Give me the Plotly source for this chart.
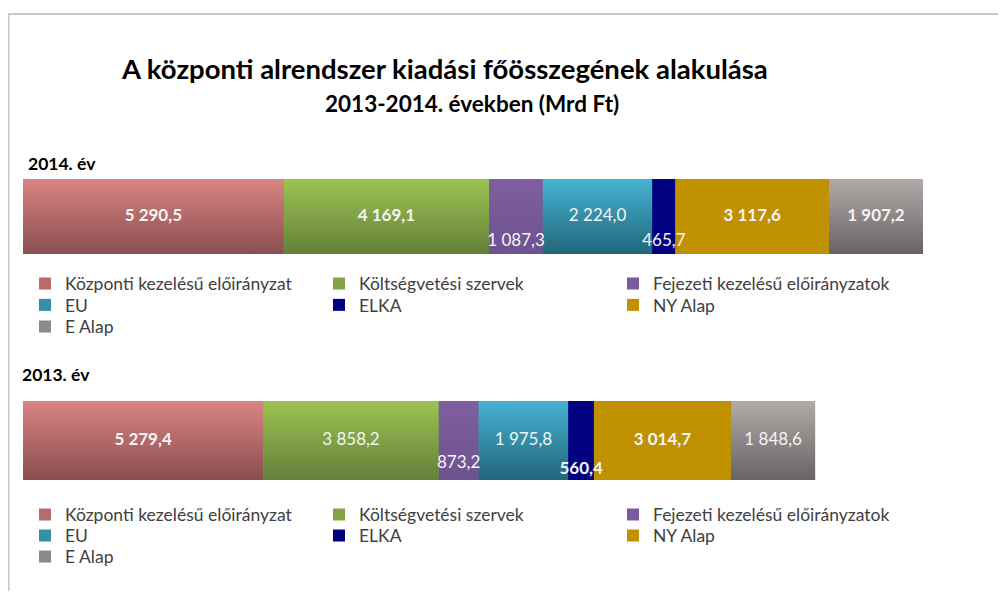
import plotly.graph_objects as go

# ---------------- data ----------------
CATEGORIES = ["Központi kezelésű előirányzat", "Költségvetési szervek",
              "Fejezeti kezelésű előirányzatok", "EU", "ELKA", "NY Alap", "E Alap"]
VALUES_2014 = [5290.5, 4169.1, 1087.3, 2224.0, 465.7, 3117.6, 1907.2]
VALUES_2013 = [5279.4, 3858.2, 873.2, 1975.8, 560.4, 3014.7, 1848.6]
YEAR_TITLES = ["2014. év", "2013. év"]
TITLE_LINES = ["A központi alrendszer kiadási főösszegének alakulása",
               "2013-2014. években (Mrd Ft)"]

# ---------------- style ----------------
MID = ["#B86B6A", "#84A444", "#7A5A9C", "#358FAA", "#000080", "#BF9000", "#8E8A89"]
TOP = ["#DA8482", "#9DC352", "#7E5EA0", "#46B3D2", "#000080", "#BF9000", "#B0ABA9"]
BOT = ["#8A4E4F", "#63803A", "#6E528F", "#22667A", "#000080", "#BF9000", "#686464"]
BOLD_2014 = [True, True, False, False, False, True, True]
BOLD_2013 = [True, False, False, False, True, True, False]
LABEL_Y_2014 = [0, 0, -0.33, 0, -0.33, 0, 0]
LABEL_Y_2013 = [0, 0, -0.30, 0, -0.37, 0, 0]
FONT = "Lato, 'Open Sans', sans-serif"
W, H = 990, 583          # page has an 8px body margin
LEG_FONT = 17.5


def fmt(v):
    s = f"{v:,.1f}"
    return s.replace(",", " ").replace(".", ",")


def px_y(y):
    return 1 - y / H


def px_x(x):
    return x / W


fig = go.Figure()

charts = [
    dict(vals=VALUES_2014, bold=BOLD_2014, ly=LABEL_Y_2014, xa="x", ya="y",
         legends=["legend", "legend2", "legend3"]),
    dict(vals=VALUES_2013, bold=BOLD_2013, ly=LABEL_Y_2013, xa="x2", ya="y2",
         legends=["legend4", "legend5", "legend6"]),
]

for ch in charts:
    vals = ch["vals"]
    for i, (cat, v) in enumerate(zip(CATEGORIES, vals)):
        fig.add_trace(go.Bar(
            x=[v], y=[0], orientation="h", name=cat, width=1,
            marker=dict(color=MID[i], line=dict(width=0)),
            xaxis=ch["xa"], yaxis=ch["ya"], legend=ch["legends"][i // 3],
            hoverinfo="skip",
        ))
    start = 0.0
    mids = []
    for i, v in enumerate(vals):
        end = start + v
        mids.append(start + v / 2)
        fig.add_trace(go.Scatter(
            x=[start, end, end, start, start], y=[-0.5, -0.5, 0.5, 0.5, -0.5],
            mode="lines", fill="toself", line=dict(width=0),
            fillgradient=dict(type="vertical",
                              colorscale=[[0, BOT[i]], [1, TOP[i]]]),
            showlegend=False, hoverinfo="skip",
            xaxis=ch["xa"], yaxis=ch["ya"],
        ))
        start = end
    texts = [("<b>%s</b>" % fmt(v)) if b else fmt(v) for v, b in zip(vals, ch["bold"])]
    fig.add_trace(go.Scatter(
        x=mids, y=ch["ly"], mode="text", text=texts,
        textfont=dict(family=FONT, size=17, color="#F4F4F4"),
        showlegend=False, hoverinfo="skip",
        xaxis=ch["xa"], yaxis=ch["ya"],
    ))

XDOM = [px_x(15), px_x(915)]
axis_off = dict(showgrid=False, zeroline=False, showticklabels=False,
                ticks="", showline=False, fixedrange=True)


def leg(center_y):
    return dict(orientation="h", x=px_x(17), xanchor="left",
                y=px_y(center_y - 19.5), yanchor="top",
                entrywidth=249, font=dict(family=FONT, size=LEG_FONT, color="#404040"),
                bgcolor="rgba(0,0,0,0)", traceorder="normal")


fig.update_layout(
    width=W, height=H,
    margin=dict(l=0, r=0, t=0, b=0),
    paper_bgcolor="white", plot_bgcolor="rgba(0,0,0,0)",
    barmode="stack", bargap=0,
    font=dict(family=FONT, color="#404040"),
    xaxis=dict(domain=XDOM, range=[0, sum(VALUES_2014)], anchor="y", **axis_off),
    yaxis=dict(domain=[px_y(246), px_y(171)], range=[-0.5, 0.5], anchor="x", **axis_off),
    xaxis2=dict(domain=XDOM, range=[0, 19780], anchor="y2", **axis_off),
    yaxis2=dict(domain=[px_y(472), px_y(393)], range=[-0.5, 0.5], anchor="x2", **axis_off),
    legend=leg(277), legend2=leg(298.5), legend3=leg(320),
    legend4=leg(508), legend5=leg(529), legend6=leg(550),
    showlegend=True,
)

# titles
fig.add_annotation(x=px_x(436), y=px_y(60), xref="paper", yref="paper",
                   text="<b>%s</b>" % TITLE_LINES[0], showarrow=False,
                   xanchor="center", yanchor="middle",
                   font=dict(family=FONT, size=27.5, color="#000000"))
fig.add_annotation(x=px_x(464), y=px_y(95), xref="paper", yref="paper",
                   text="<b>%s</b>" % TITLE_LINES[1], showarrow=False,
                   xanchor="center", yanchor="middle",
                   font=dict(family=FONT, size=22.5, color="#000000"))
fig.add_annotation(x=px_x(18), y=px_y(155), xref="paper", yref="paper",
                   text="<b>%s</b>" % YEAR_TITLES[0], showarrow=False,
                   xanchor="left", yanchor="middle",
                   font=dict(family=FONT, size=17.5, color="#000000"))
fig.add_annotation(x=px_x(12), y=px_y(366), xref="paper", yref="paper",
                   text="<b>%s</b>" % YEAR_TITLES[1], showarrow=False,
                   xanchor="left", yanchor="middle",
                   font=dict(family=FONT, size=17.5, color="#000000"))

# chart-area border (top and left edges visible)
fig.add_shape(type="line", xref="paper", yref="paper",
              x0=0, x1=1, y0=px_y(6), y1=px_y(6),
              line=dict(color="#C8C8C8", width=2))
fig.add_shape(type="line", xref="paper", yref="paper",
              x0=px_x(0.5), x1=px_x(0.5), y0=px_y(6), y1=0,
              line=dict(color="#C8C8C8", width=2))

fig.write_html("out.html")
